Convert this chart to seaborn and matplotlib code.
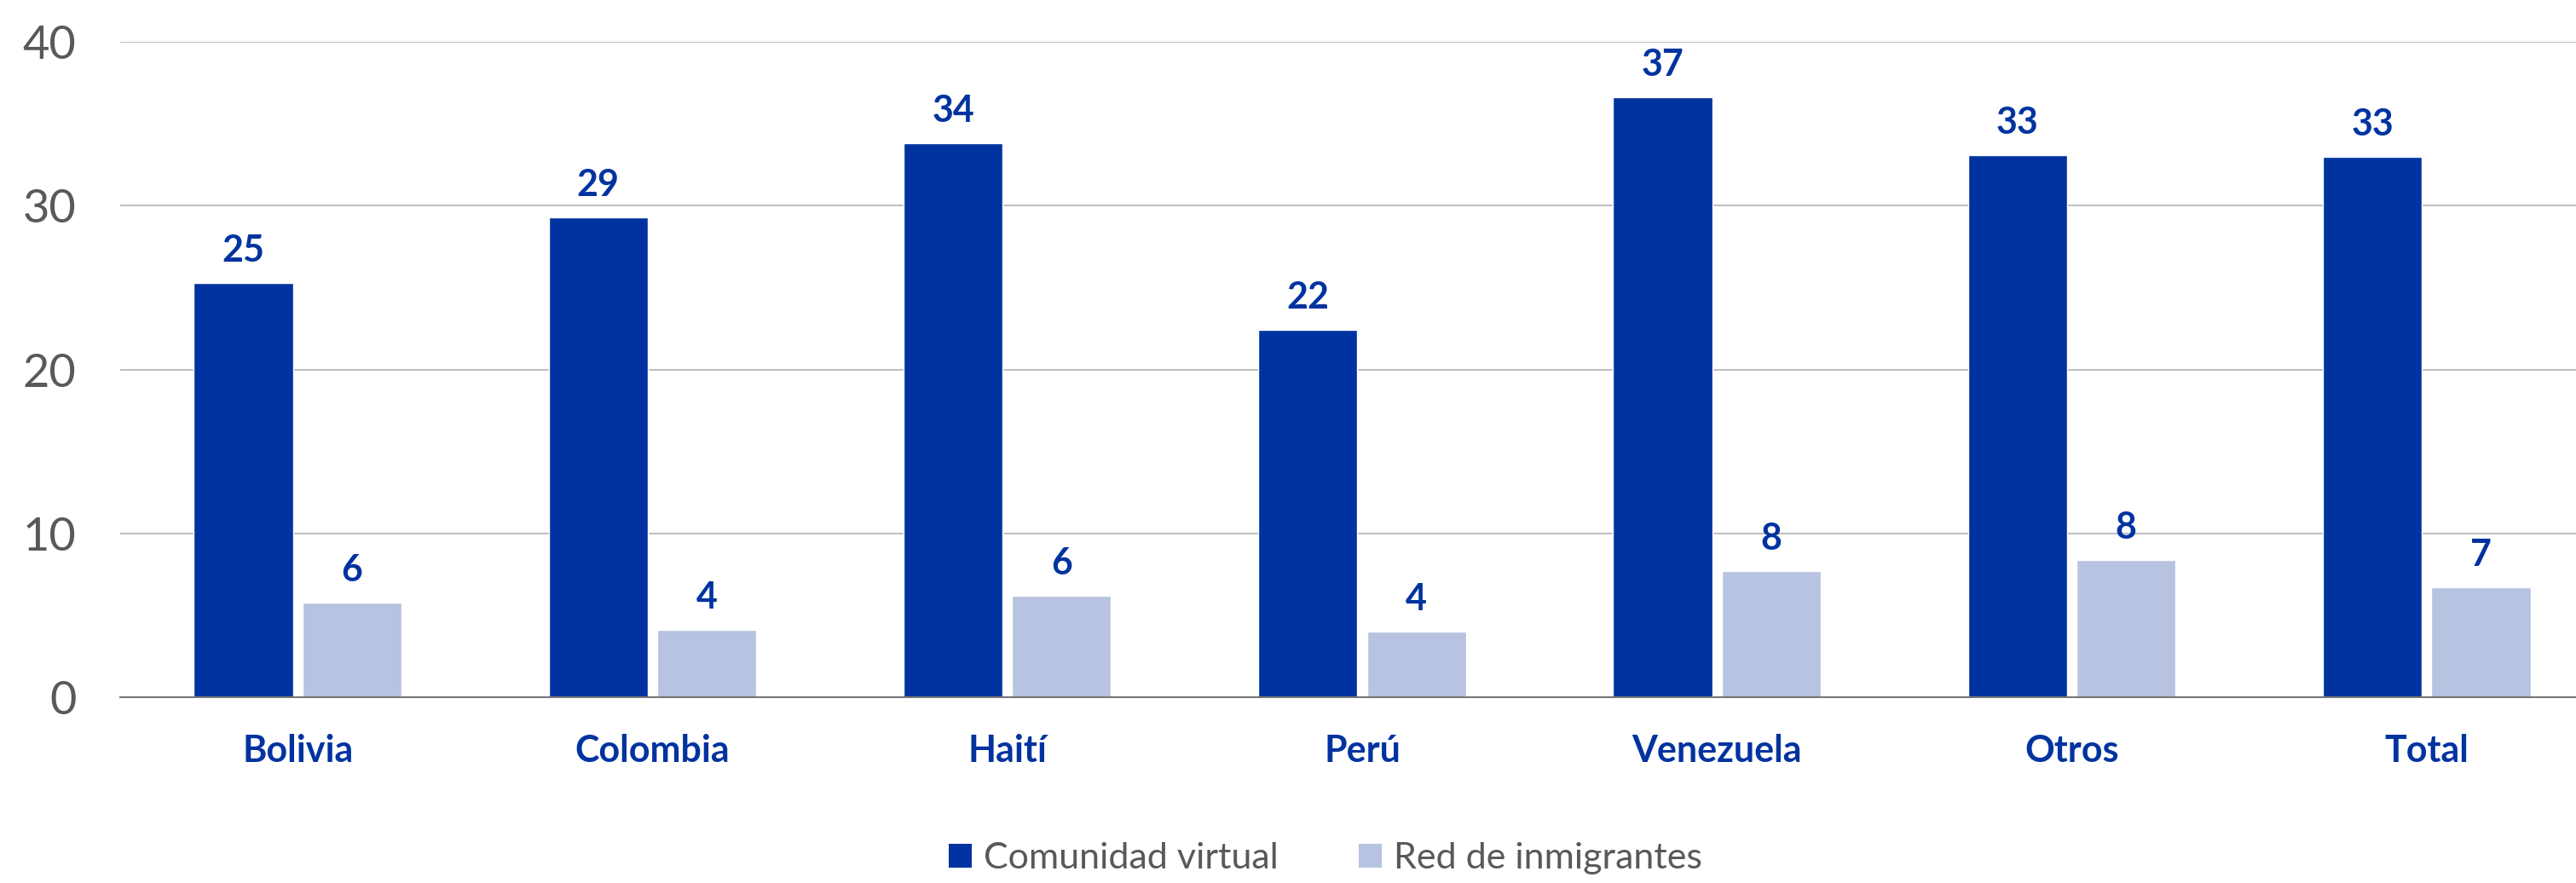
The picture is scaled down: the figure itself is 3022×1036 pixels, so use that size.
import matplotlib
matplotlib.use("Agg")
import matplotlib.pyplot as plt
from matplotlib.patches import Patch
import seaborn as sns
import pandas as pd

# Data
categories = ["Bolivia", "Colombia", "Haití", "Perú", "Venezuela", "Otros", "Total"]
comunidad_virtual = [25.3, 29.3, 33.8, 22.4, 36.6, 33.1, 33.0]
red_inmigrantes = [5.8, 4.1, 6.2, 4.0, 7.7, 8.4, 6.7]
series_names = ["Comunidad virtual", "Red de inmigrantes"]
y_ticks = [0, 10, 20, 30, 40]

DARK = "#0033A0"
LIGHT = "#B7C3E0"
GREY_TEXT = "#595959"

df = pd.DataFrame({
    "categoria": categories * 2,
    "serie": [series_names[0]] * len(categories) + [series_names[1]] * len(categories),
    "valor": comunidad_virtual + red_inmigrantes,
})

sns.set_theme(style="white")
plt.rcParams["font.family"] = ["Lato", "DejaVu Sans"]

fig = plt.figure(figsize=(30.22, 10.36), dpi=100)
ax = fig.add_axes([141 / 3022, 1 - 818.3 / 1036, 1 - 141 / 3022, (818.3 - 49) / 1036])

sns.barplot(
    data=df, x="categoria", y="valor", hue="serie",
    order=categories, hue_order=series_names,
    palette=[DARK, LIGHT], width=0.612, gap=0.088,
    saturation=1, legend=False, ax=ax,
)

for container in ax.containers:
    ax.bar_label(container, fmt="%.0f", padding=13, color=DARK,
                 fontsize=31, fontweight="bold")

ax.set_ylim(0, 40)
ax.set_xlim(-0.5, 6.421)
ax.set_yticks(y_ticks)
ax.set_xlabel("")
ax.set_ylabel("")

ax.yaxis.grid(True, color="#BFBFBF", linewidth=1.5)
ax.set_axisbelow(True)
for side in ["top", "right", "left"]:
    ax.spines[side].set_visible(False)
ax.spines["bottom"].set_color("#767676")
ax.spines["bottom"].set_linewidth(1.5)

ax.tick_params(axis="y", length=0, pad=37, labelsize=39, labelcolor=GREY_TEXT)
ax.tick_params(axis="x", length=0, pad=31, labelsize=31)
for lbl in ax.get_xticklabels():
    lbl.set_color(DARK)
    lbl.set_fontweight("bold")

handles = [Patch(facecolor=DARK, edgecolor="none"), Patch(facecolor=LIGHT, edgecolor="none")]
fig.legend(
    handles, series_names, loc="lower center", bbox_to_anchor=(1555 / 3022, -0.028),
    ncol=2, frameon=False, fontsize=31, labelcolor=GREY_TEXT,
    handlelength=0.62, handleheight=0.62, handletextpad=0.33, columnspacing=2.2,
)

fig.savefig("out.png", dpi=100, facecolor="white")
